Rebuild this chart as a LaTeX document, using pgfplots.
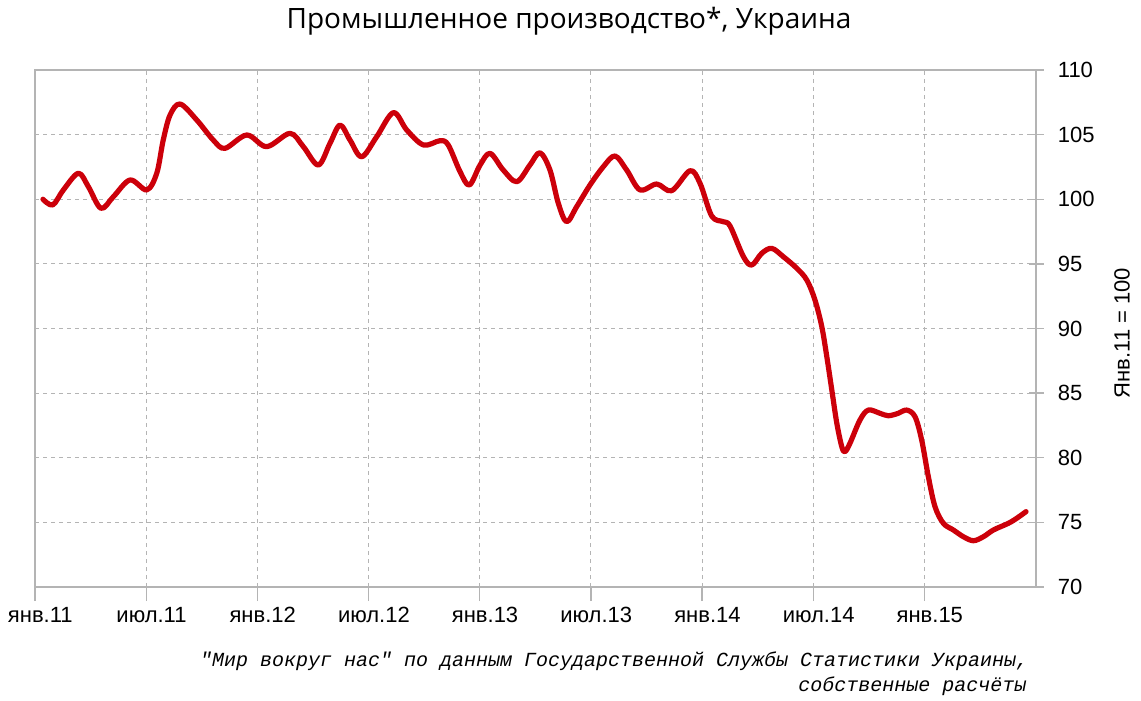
\documentclass[border=0pt]{standalone}
\usepackage{pgfplots}
\pgfplotsset{compat=1.18}
\usepackage{pgfplotstable}
\usepackage{fontspec}
\setmainfont{Liberation Sans}
\newfontfamily\titlefont{Open Sans}
\newfontfamily\srcfont{Liberation Mono}
\definecolor{linered}{RGB}{204,0,10}
\definecolor{axgray}{RGB}{180,180,180}
\pgfplotstableread{
u v
0.43 100.00
0.96 99.56
1.53 100.72
2.34 102.01
2.88 100.97
3.56 99.30
4.23 100.20
5.13 101.49
6.03 100.72
6.57 102.01
6.92 104.58
7.29 106.52
7.83 107.37
8.73 106.13
9.62 104.58
10.25 103.94
11.43 104.97
12.50 104.07
13.76 105.10
14.48 104.07
15.29 102.65
15.92 104.33
16.46 105.74
17.00 104.58
17.63 103.29
18.44 104.84
19.34 106.70
20.06 105.36
20.96 104.20
21.86 104.53
22.30 104.20
22.94 102.13
23.44 101.10
24.02 102.65
24.56 103.55
25.27 102.26
26.00 101.36
26.71 102.65
27.25 103.60
27.79 102.26
28.24 99.69
28.69 98.26
29.23 99.42
29.95 101.10
30.67 102.52
31.30 103.35
31.93 102.26
32.65 100.72
33.55 101.18
34.36 100.66
35.35 102.21
35.89 101.23
36.52 98.70
37.15 98.26
37.51 97.93
38.23 95.56
38.68 94.91
39.22 95.82
39.76 96.20
40.38 95.56
41.11 94.66
41.65 93.75
42.09 92.21
42.46 90.14
42.73 87.82
43.00 85.24
43.27 82.67
43.54 80.85
43.71 80.47
43.98 81.12
44.52 82.92
44.97 83.69
45.60 83.44
46.05 83.25
46.59 83.44
47.04 83.69
47.49 83.18
47.85 81.37
48.21 78.53
48.57 76.21
49.02 74.93
49.56 74.41
50.10 73.89
50.64 73.58
51.18 73.89
51.72 74.41
52.53 74.93
52.98 75.32
53.48 75.83
}\prodtable
\begin{document}
\begin{tikzpicture}[x=0.75pt,y=0.75pt]
\useasboundingbox (0,0) rectangle (1141,700);
\begin{axis}[
  at={(26.25pt,84.75pt)}, anchor=south west,
  width=750.75pt, height=387.75pt, scale only axis,
  xmin=0, xmax=54.02, ymin=70, ymax=110,
  xtick={0,6,12,18,24,30,36,42,48},
  xticklabels={янв.11,июл.11,янв.12,июл.12,янв.13,июл.13,янв.14,июл.14,янв.15},
  ytick={70,75,...,110},
  xtick pos=bottom, ytick pos=right, yticklabel pos=right,
  tick align=center, major tick length=11.25pt,
  xtick style={yshift=-5pt},
  axis line style={axgray, line width=1pt},
  tick style={axgray, line width=1pt},
  grid=major,
  grid style={axgray, line width=0.75pt, dash pattern=on 3pt off 3pt},
  ticklabel style={font=\fontsize{16.5}{18}\selectfont, text=black},
  xticklabel style={yshift=-6pt, xshift=4pt},
  yticklabel style={xshift=7.25pt},
  /pgf/number format/assume math mode=true,
  clip=false,
]
\addplot[linered, line width=3.9pt, smooth, tension=0.55, line cap=round, line join=round] table[x=u, y=v] {\prodtable};
\end{axis}
\node[anchor=base, font=\titlefont\fontsize{21}{24}\selectfont] at (569,671.7) {Промышленное производство*, Украина};
\node[rotate=90, font=\fontsize{16.5}{18}\selectfont] at (1122,367) {Янв.11 = 100};
\node[anchor=base east, font=\srcfont\itshape\fontsize{15}{18}\selectfont] at (1033,34) {"Мир вокруг нас" по данным Государственной Службы Статистики Украины,};
\node[anchor=base east, font=\srcfont\itshape\fontsize{15}{18}\selectfont] at (1031,9) {собственные расчёты};
\end{tikzpicture}
\end{document}
